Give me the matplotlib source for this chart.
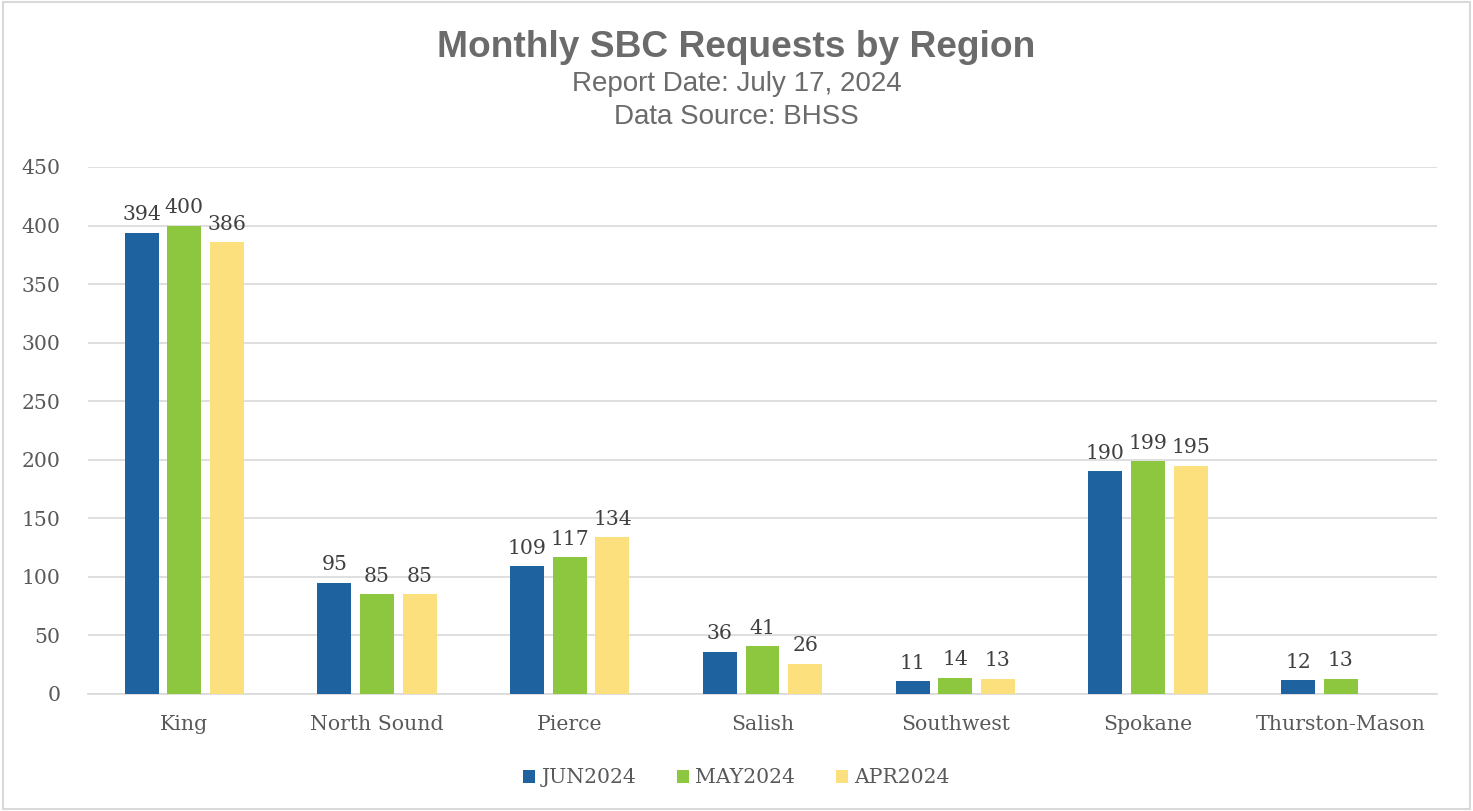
import numpy as np
import matplotlib
import matplotlib.pyplot as plt
from matplotlib.patches import Rectangle

matplotlib.use('Agg')

regions = ['King', 'North Sound', 'Pierce', 'Salish', 'Southwest', 'Spokane', 'Thurston-Mason']
jun_2024 = [394, 95, 109, 36, 11, 190, 12]
may_2024 = [400, 85, 117, 41, 14, 199, 13]
apr_2024 = [386, 85, 134, 26, 13, 195, np.nan]
series_names = ['JUN2024', 'MAY2024', 'APR2024']
y_ticks = [0, 50, 100, 150, 200, 250, 300, 350, 400, 450]

colors = ['#1e63a0', '#8dc63f', '#fde07e']
text_gray = '#595959'
grid_gray = '#d9d9d9'
serif = ['Cambria', 'DejaVu Serif']
fs = 14.7

fig = plt.figure(figsize=(14.73, 8.11), dpi=100)
ax = fig.add_axes([0.0597, 0.1443, 0.9159, 0.6498])

x = np.arange(len(regions))
width = 0.176
step = 0.2215

for i, (vals, name) in enumerate(zip([jun_2024, may_2024, apr_2024], series_names)):
    vals = np.array(vals, dtype=float)
    pos = x + (i - 1) * step
    ax.bar(pos, vals, width=width, color=colors[i], label=name, zorder=3)
    for xp, v in zip(pos, vals):
        if np.isnan(v):
            continue
        ax.annotate(f'{int(v)}', (xp, v), xytext=(0, 6), textcoords='offset points',
                    ha='center', va='bottom', fontsize=fs, color='#404040',
                    family=serif)

ax.set_xlim(-0.5, len(regions) - 0.5)
ax.set_ylim(0, 450)
ax.set_yticks(y_ticks)
ax.set_xticks(x)
ax.set_xticklabels(regions)
ax.yaxis.grid(True, color=grid_gray, linewidth=1.2, zorder=0)
ax.set_axisbelow(True)
for s in ['top', 'right', 'left']:
    ax.spines[s].set_visible(False)
ax.spines['bottom'].set_color(grid_gray)
ax.spines['bottom'].set_linewidth(1.2)
ax.tick_params(axis='both', length=0, labelsize=fs, labelcolor=text_gray)
for lab in ax.get_xticklabels() + ax.get_yticklabels():
    lab.set_family(serif)
ax.tick_params(axis='x', pad=15)
ax.tick_params(axis='y', pad=20)

fig.text(0.5, 0.942, 'Monthly SBC Requests by Region', ha='center', va='center',
         fontsize=26.7, fontweight='bold', color='#6b6b6b', family='Liberation Sans')
fig.text(0.5, 0.896, 'Report Date: July 17, 2024', ha='center', va='center',
         fontsize=20, color='#6b6b6b', family='Liberation Sans')
fig.text(0.5, 0.856, 'Data Source: BHSS', ha='center', va='center',
         fontsize=20, color='#6b6b6b', family='Liberation Sans')

leg = fig.legend(loc='center', bbox_to_anchor=(0.5, 0.041), ncol=3, frameon=False,
                 handlelength=0.6, handleheight=0.6, handletextpad=0.3, columnspacing=2.0,
                 prop={'family': serif, 'size': fs})
for t in leg.get_texts():
    t.set_color(text_gray)

fig.patches.append(Rectangle((0.002, 0.002), 0.996, 0.996, transform=fig.transFigure,
                             fill=False, edgecolor=grid_gray, linewidth=1.5))

fig.savefig('out.png', dpi=100)
